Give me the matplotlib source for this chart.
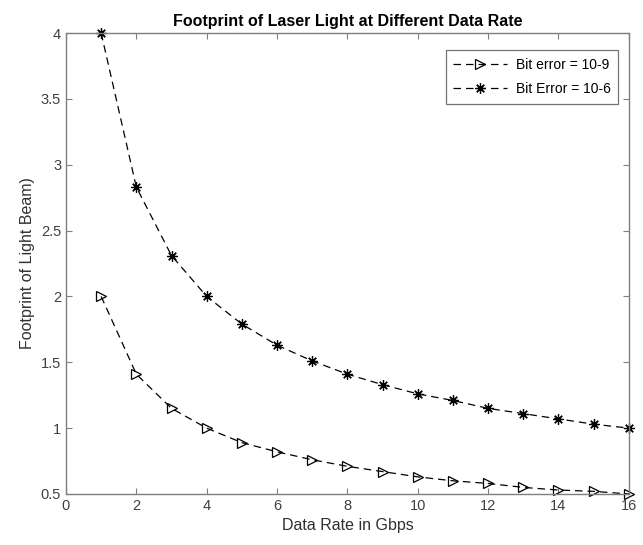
import matplotlib
matplotlib.use("Agg")
import matplotlib.pyplot as plt

plt.rcParams['font.family'] = ['Liberation Sans', 'DejaVu Sans']

data_rate = [1, 2, 3, 4, 5, 6, 7, 8, 9, 10, 11, 12, 13, 14, 15, 16]
footprint_ber9 = [2.00, 1.41, 1.15, 1.00, 0.89, 0.82, 0.76, 0.71, 0.67, 0.63, 0.60, 0.58, 0.55, 0.53, 0.52, 0.50]
footprint_ber6 = [4.00, 2.83, 2.31, 2.00, 1.79, 1.63, 1.51, 1.41, 1.33, 1.26, 1.21, 1.15, 1.11, 1.07, 1.03, 1.00]
labels = ['Bit error = 10-9', 'Bit Error = 10-6']
xticks = [0, 2, 4, 6, 8, 10, 12, 14, 16]
yticks = [0.5, 1, 1.5, 2, 2.5, 3, 3.5, 4]

fig = plt.figure(figsize=(6.43, 5.45), dpi=100)
ax = fig.add_axes([0.1026, 0.0936, 0.8754, 0.8458])

ax.plot(data_rate, footprint_ber9, linestyle=(0, (6, 4)), color='black', linewidth=0.9,
        marker='>', markersize=7, markerfacecolor='none', markeredgecolor='black',
        markeredgewidth=0.9, label=labels[0], clip_on=False)
ax.plot(data_rate, footprint_ber6, linestyle=(0, (6, 4)), color='black', linewidth=0.9,
        marker=(8, 2, 0), markersize=7.5, markerfacecolor='none', markeredgecolor='black',
        markeredgewidth=0.9, label=labels[1], clip_on=False)

ax.set_xlim(0, 16)
ax.set_ylim(0.5, 4)
ax.set_xticks(xticks)
ax.set_xticklabels([str(t) for t in xticks])
ax.set_yticks(yticks)
ax.set_yticklabels(['0.5', '1', '1.5', '2', '2.5', '3', '3.5', '4'])

axcol = '#7f7f7f'
for s in ax.spines.values():
    s.set_color(axcol)
    s.set_linewidth(1.0)
ax.tick_params(direction='in', length=4, width=0.8, colors=axcol, labelcolor='#404040',
               labelsize=10.5, top=True, right=True)

ax.set_xlabel('Data Rate in Gbps', fontsize=11.5, color='#303030')
ax.set_ylabel('Footprint of Light Beam)', fontsize=11.5, color='#303030')
ax.set_title('Footprint of Laser Light at Different Data Rate', fontsize=11.5,
             fontweight='bold', pad=5)

leg = ax.legend(loc='upper right', bbox_to_anchor=(0.981, 0.963), fontsize=10,
                frameon=True, fancybox=False, edgecolor='#505050',
                handlelength=3.9, labelspacing=0.75, handletextpad=0.6,
                borderpad=0.55, borderaxespad=0.0)
leg.get_frame().set_linewidth(0.9)

fig.savefig('out.png', dpi=100)
